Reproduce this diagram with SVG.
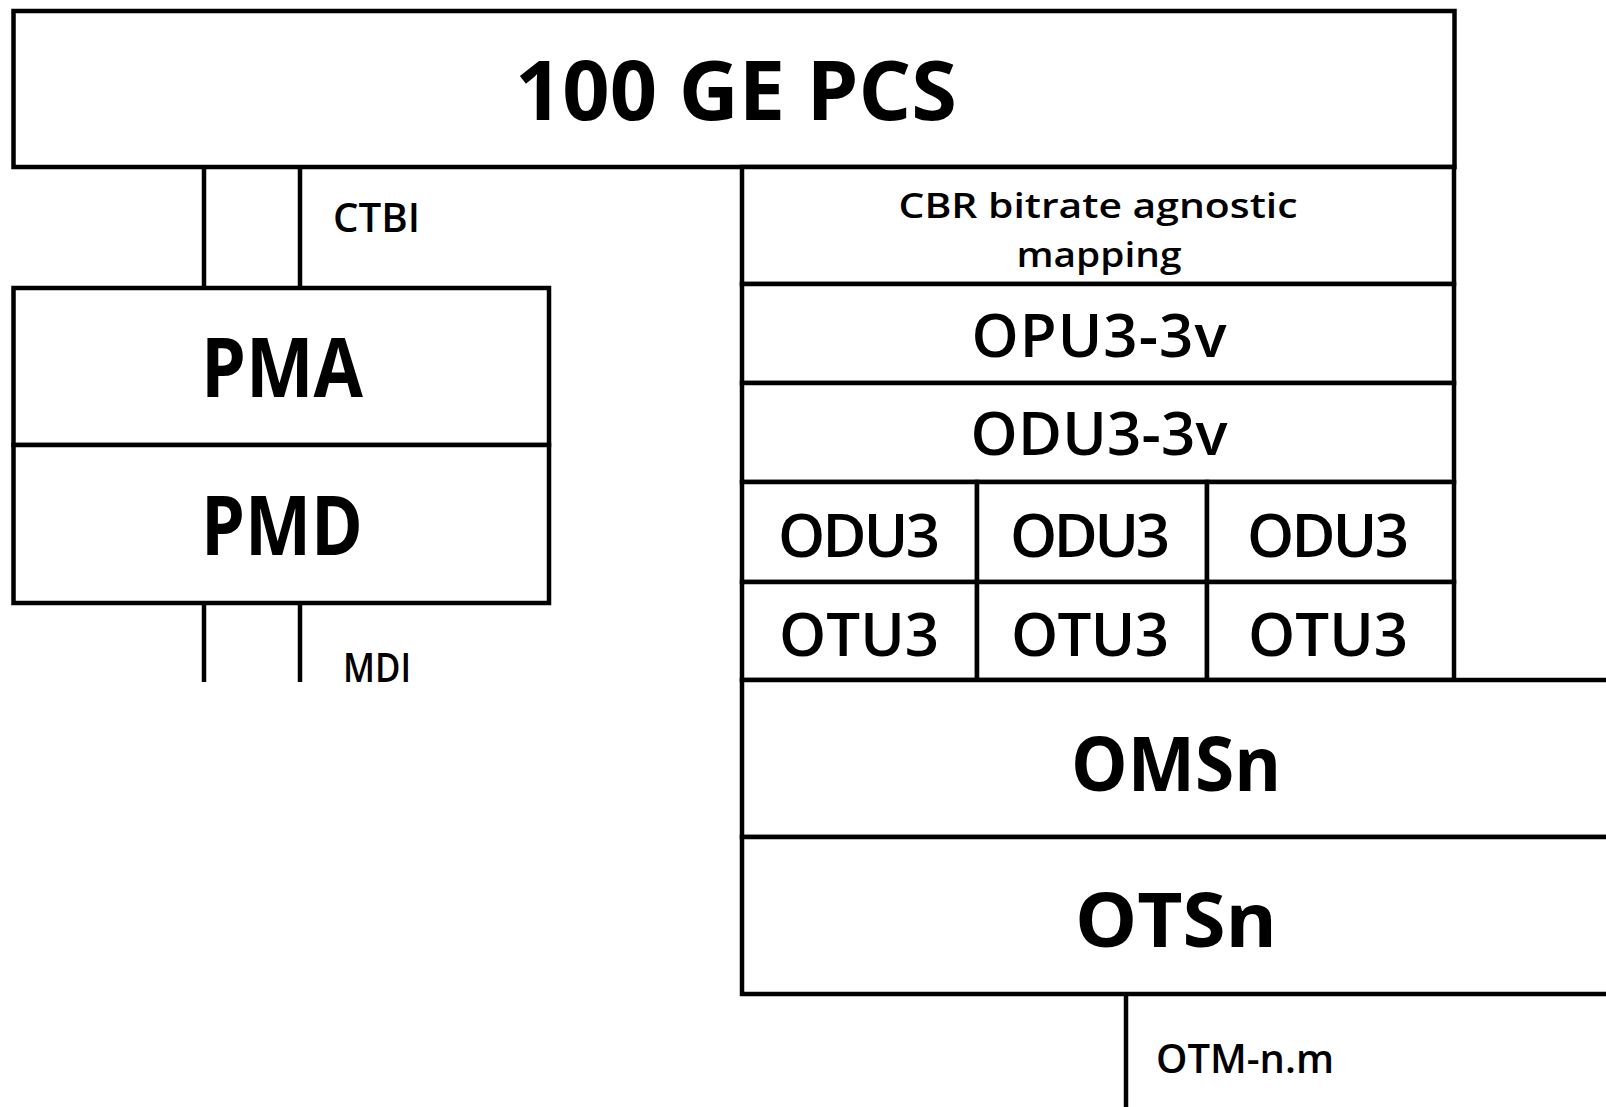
<svg xmlns="http://www.w3.org/2000/svg" width="1606" height="1107" viewBox="0 0 1606 1107">
<style>
rect, line { fill: #ffffff; stroke: #000000; stroke-width: 4.5; }
line { fill: none; }
text { font-family: "Open Sans", "DejaVu Sans", sans-serif; fill: #000000; text-anchor: middle; font-weight: 600; }
.big { font-size: 82px; font-weight: 700; }
.mid { font-size: 60px; }
.cbr { font-size: 34px; }
.lab { font-size: 40px; text-anchor: start; }
</style>
<rect x="0" y="0" width="1606" height="1107" style="stroke:none;fill:#ffffff"/>
<g id="connectors">
<line x1="204" y1="167" x2="204" y2="288"/>
<line x1="300" y1="167" x2="300" y2="288"/>
<line x1="204" y1="603" x2="204" y2="682"/>
<line x1="300" y1="603" x2="300" y2="682"/>
<line x1="1126" y1="994" x2="1126" y2="1110"/>
</g>
<g id="pcs">
<rect x="13.5" y="11" width="1441" height="156"/>
<text class="big" x="736" y="120" textLength="442" lengthAdjust="spacingAndGlyphs">100 GE PCS</text>
</g>
<g id="pma">
<rect x="13.5" y="288" width="535.5" height="157"/>
<text class="big" x="282" y="397" textLength="162" lengthAdjust="spacingAndGlyphs">PMA</text>
</g>
<g id="pmd">
<rect x="13.5" y="445" width="535.5" height="158"/>
<text class="big" x="282" y="555" textLength="162" lengthAdjust="spacingAndGlyphs">PMD</text>
</g>
<g id="cbr">
<rect x="742" y="167" width="712" height="117"/>
<text class="cbr" x="1098" y="218" textLength="399" lengthAdjust="spacingAndGlyphs">CBR bitrate agnostic</text>
<text class="cbr" x="1099" y="267" textLength="165" lengthAdjust="spacingAndGlyphs">mapping</text>
</g>
<g id="opu">
<rect x="742" y="284" width="712" height="99"/>
<text class="mid" x="1099" y="357" textLength="255" lengthAdjust="spacing">OPU3-3v</text>
</g>
<g id="odu3v">
<rect x="742" y="383" width="712" height="99"/>
<text class="mid" x="1099" y="455" textLength="257" lengthAdjust="spacing">ODU3-3v</text>
</g>
<g id="odu3-1">
<rect x="742" y="482" width="235" height="100"/>
<text class="mid" x="859" y="557" textLength="162" lengthAdjust="spacing">ODU3</text>
</g>
<g id="odu3-2">
<rect x="977" y="482" width="230" height="100"/>
<text class="mid" x="1090" y="557" textLength="160" lengthAdjust="spacing">ODU3</text>
</g>
<g id="odu3-3">
<rect x="1207" y="482" width="247" height="100"/>
<text class="mid" x="1328" y="557" textLength="162" lengthAdjust="spacing">ODU3</text>
</g>
<g id="otu3-1">
<rect x="742" y="582" width="235" height="98"/>
<text class="mid" x="859" y="656" textLength="160" lengthAdjust="spacing">OTU3</text>
</g>
<g id="otu3-2">
<rect x="977" y="582" width="230" height="98"/>
<text class="mid" x="1090" y="656" textLength="158" lengthAdjust="spacing">OTU3</text>
</g>
<g id="otu3-3">
<rect x="1207" y="582" width="247" height="98"/>
<text class="mid" x="1328" y="656" textLength="160" lengthAdjust="spacing">OTU3</text>
</g>
<g id="omsn">
<rect x="742" y="680" width="880" height="157"/>
<text class="big" x="1176" y="791" style="font-size:76px" textLength="210" lengthAdjust="spacingAndGlyphs">OMSn</text>
</g>
<g id="otsn">
<rect x="742" y="837" width="880" height="157"/>
<text class="big" x="1176" y="947" style="font-size:76px" textLength="202" lengthAdjust="spacingAndGlyphs">OTSn</text>
</g>
<g id="labels">
<text class="lab" x="333" y="232" textLength="87" lengthAdjust="spacingAndGlyphs">CTBI</text>
<text class="lab" x="343" y="682" textLength="68" lengthAdjust="spacingAndGlyphs">MDI</text>
<text class="lab" x="1156" y="1073" textLength="178" lengthAdjust="spacingAndGlyphs">OTM-n.m</text>
</g>
</svg>
